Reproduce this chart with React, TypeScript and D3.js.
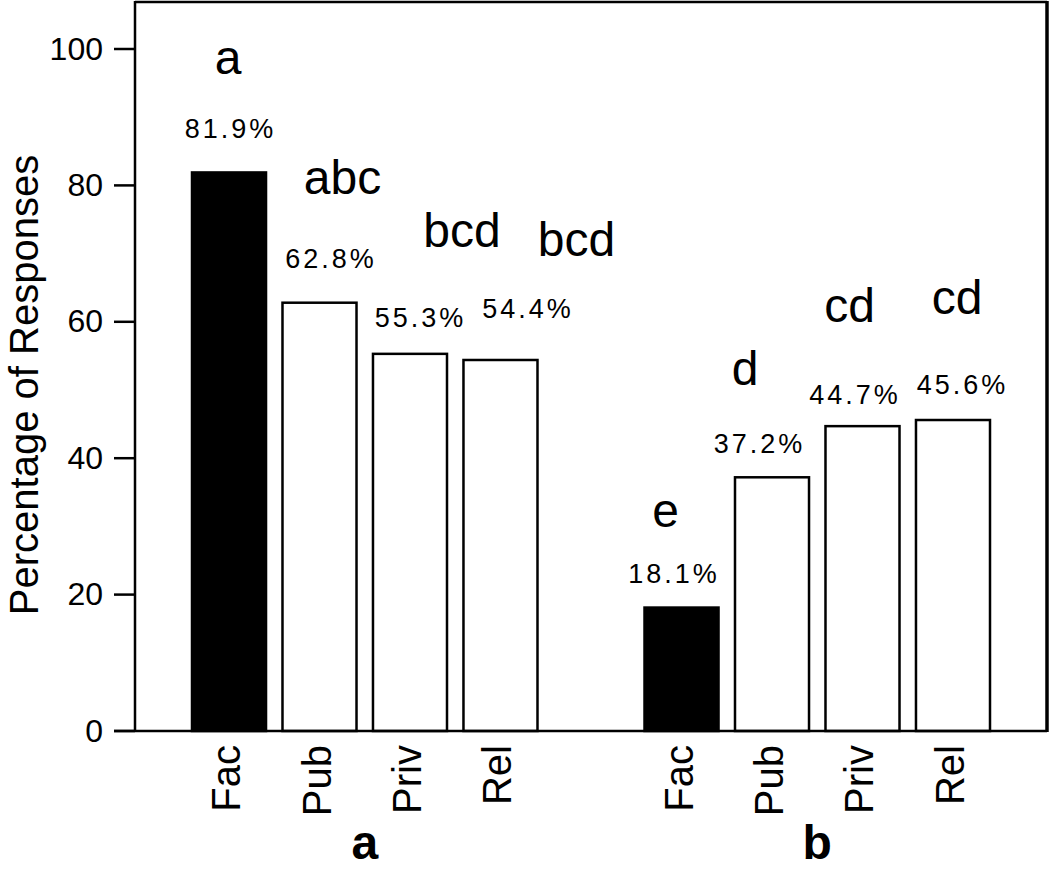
import React, { useRef, useEffect } from "react";
import * as d3 from "d3";

// --- data ---
const groups = ["a", "b"];
const sources = ["Fac", "Pub", "Priv", "Rel"];
const valuesA = [81.9, 62.8, 55.3, 54.4];
const valuesB = [18.1, 37.2, 44.7, 45.6];
const lettersA = ["a", "abc", "bcd", "bcd"];
const lettersB = ["e", "d", "cd", "cd"];
const yTicks = [0, 20, 40, 60, 80, 100];

// hand placed annotation nudges (dx from bar centre, dy from bar top)
const pctNudgeA = [[0, -34], [10, -35], [9, -27], [26, -42]];
const pctNudgeB = [[-9, -25], [-14, -24], [-9, -22], [8, -26]];
// letter label nudges (dx from bar centre, dy from percent baseline)
const letterNudgeA = [[-1, -64], [23, -74], [52, -80], [76, -62]];
const letterNudgeB = [[-16, -56], [-27, -68], [-13, -82], [4, -80]];

const FONT = "'Liberation Sans', Arial, Helvetica, sans-serif";

export default function App() {
  const ref = useRef<SVGSVGElement>(null);

  useEffect(() => {
    if (!ref.current) return;
    const svg = d3.select(ref.current);
    svg.selectAll("*").remove();

    const left = 135, right = 1047, top = 2, bottom = 731;

    const y = d3.scaleLinear().domain([0, 100]).range([bottom, 49]);
    const xg = d3.scaleBand().domain(groups).range([192, 990]).paddingInner(0.2365).paddingOuter(0);
    const xs = d3.scaleBand().domain(sources).range([0, xg.bandwidth()]).paddingInner(0.182).paddingOuter(0);

    const rows = groups.flatMap((g, gi) =>
      sources.map((s, i) => ({
        group: g,
        source: s,
        value: (gi === 0 ? valuesA : valuesB)[i],
        letter: (gi === 0 ? lettersA : lettersB)[i],
        pct: (gi === 0 ? pctNudgeA : pctNudgeB)[i],
        lab: (gi === 0 ? letterNudgeA : letterNudgeB)[i],
      }))
    );
    const cx = (d: any) => xg(d.group)! + xs(d.source)! + xs.bandwidth() / 2;

    // frame
    svg.append("line").attr("x1", left).attr("x2", right).attr("y1", top).attr("y2", top)
      .attr("stroke", "#000").attr("stroke-width", 2.5);
    svg.append("line").attr("x1", right).attr("x2", right).attr("y1", top - 1).attr("y2", bottom + 1)
      .attr("stroke", "#000").attr("stroke-width", 3.5);

    // bars
    svg.append("g").selectAll("rect").data(rows).enter().append("rect")
      .attr("x", d => xg(d.group)! + xs(d.source)!)
      .attr("y", d => y(d.value))
      .attr("width", xs.bandwidth())
      .attr("height", d => y(0) - y(d.value))
      .attr("fill", d => (d.source === "Fac" ? "#000" : "#fff"))
      .attr("stroke", "#000").attr("stroke-width", 2.5);

    // axes
    svg.append("line").attr("x1", left).attr("x2", left).attr("y1", top - 1).attr("y2", bottom)
      .attr("stroke", "#000").attr("stroke-width", 2.5);
    svg.append("line").attr("x1", left - 21).attr("x2", right).attr("y1", bottom).attr("y2", bottom)
      .attr("stroke", "#000").attr("stroke-width", 2.5);

    const ticks = svg.append("g");
    ticks.selectAll("line").data(yTicks).enter().append("line")
      .attr("x1", left - 21).attr("x2", left)
      .attr("y1", d => y(d)).attr("y2", d => y(d))
      .attr("stroke", "#000").attr("stroke-width", 2.5);
    ticks.selectAll("text").data(yTicks).enter().append("text")
      .attr("x", 103).attr("y", d => y(d)).attr("dy", "0.33em")
      .attr("text-anchor", "end").style("font-family", FONT).style("font-size", "32px")
      .text(d => d);

    svg.append("text")
      .attr("transform", `translate(38,385) rotate(-90)`)
      .attr("text-anchor", "middle").style("font-family", FONT).style("font-size", "40px")
      .text("Percentage of Responses");

    // percentage labels
    svg.append("g").selectAll("text").data(rows).enter().append("text")
      .attr("x", d => cx(d) + d.pct[0] + 1.5)
      .attr("y", d => y(d.value) + d.pct[1])
      .attr("text-anchor", "middle")
      .attr("font-family", FONT).attr("font-size", 27)
      .style("letter-spacing", "3px")
      .text(d => `${d.value.toFixed(1)}%`);

    // significance letters
    svg.append("g").selectAll("text").data(rows).enter().append("text")
      .attr("x", d => cx(d) + d.lab[0])
      .attr("y", d => y(d.value) + d.pct[1] + d.lab[1])
      .attr("text-anchor", "middle").style("font-family", FONT).style("font-size", "48px")
      .text(d => d.letter);

    // category labels
    svg.append("g").selectAll("text").data(rows).enter().append("text")
      .attr("transform", d => `translate(${cx(d) + 11},745) rotate(-90)`)
      .attr("text-anchor", "end").style("font-family", FONT).style("font-size", "40px")
      .text(d => d.source);

    // group labels
    svg.append("g").selectAll("text").data(groups).enter().append("text")
      .attr("x", d => xg(d)! + xg.bandwidth() / 2)
      .attr("y", 859)
      .attr("text-anchor", "middle").style("font-family", FONT).style("font-size", "48px")
      .style("font-weight", "bold")
      .text(d => d);
  }, []);

  return (
    <div style={{ position: "absolute", left: 0, top: 0, width: 1050, height: 870, background: "#fff" }}>
      <svg ref={ref} width={1050} height={870} style={{ display: "block" }} />
    </div>
  );
}
